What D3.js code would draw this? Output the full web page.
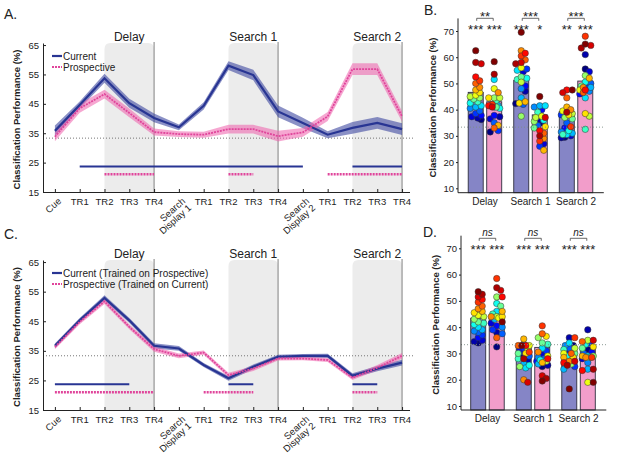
<!DOCTYPE html>
<html>
<head>
<meta charset="utf-8">
<script src="https://cdn.jsdelivr.net/npm/d3@7"></script>
<style>
body { margin: 0; background: #fff; }
text { font-family: "Liberation Sans", Arial, sans-serif; fill: #222; }
</style>
</head>
<body>
<div id="chart"></div>
<script>
// time course labels (x axis of panels A and C)
var timeLabels = ["Cue", "TR1", "TR2", "TR3", "TR4", "Search\nDisplay 1", "TR1", "TR2", "TR3", "TR4",
                  "Search\nDisplay 2", "TR1", "TR2", "TR3", "TR4"];
var epochNames = ["Delay", "Search 1", "Search 2"];
var epochStart = [2, 7, 12];
var epochEnd = [4, 9, 14];
var yTicksLine = [15, 25, 35, 45, 55, 65];
var yTicksBar = [10, 20, 30, 40, 50, 60, 70];
var chance = 33.33;

// panel A
var aCurrent = [35.8, 44.6, 53.7, 45.2, 40.2, 37, 44.3, 58, 54.8, 42.4, 38.5, 34.5, 36.8, 38.5, 36.4];
var aCurrentSE = [1.8, 1.2, 1.5, 1.5, 1.5, 1.0, 1.2, 1.5, 1.8, 2.0, 1.8, 1.2, 2.0, 2.0, 2.0];
var aProspective = [33.8, 43.5, 48.3, 41.9, 35.4, 34.7, 34.5, 36.4, 36.4, 34, 35.3, 40.7, 56.8, 56.8, 40.7];
var aProspectiveSE = [1.5, 1.5, 1.5, 1.5, 1.2, 1.0, 1.0, 1.5, 1.5, 1.8, 1.5, 1.5, 2.0, 2.0, 1.8];
var aSigCurrent = [[1, 10], [12, 14]];
var aSigProspective = [[2, 4], [7, 8], [11, 14]];

// panel C
var cCurrent = [36.7, 45.3, 52.9, 45.3, 36.7, 35.8, 30.2, 25.7, 29.6, 33, 33.3, 33.3, 26.6, 29, 31];
var cCurrentSE = [0.8, 0.8, 0.9, 0.8, 0.9, 0.8, 0.7, 0.8, 0.8, 0.7, 0.6, 0.7, 0.8, 0.9, 1.0];
var cProspective = [36.3, 44.8, 51.7, 43.1, 35.6, 33.3, 34.4, 26.8, 29, 32.4, 32.4, 31.9, 25.9, 29.3, 33.3];
var cProspectiveSE = [0.8, 0.8, 0.9, 0.8, 0.9, 0.8, 0.7, 0.8, 0.8, 0.7, 0.6, 0.7, 0.8, 0.9, 1.0];
var cSigCurrent = [[0, 3], [7, 8], [12, 13]];
var cSigProspective = [[0, 4], [6, 8], [12, 13]];

// bar panels
var barGroups = ["Delay", "Search 1", "Search 2"];
var bMeanCurrent = [46.6, 51.1, 39.3];
var bMeanProspective = [43, 38, 50.9];
var bStarsCurrent = ["***", "***", "**"];
var bStarsProspective = ["***", "*", "***"];
var bStarsDiff = ["**", "***", "***"];
var dMeanCurrent = [43.4, 32.6, 32.3];
var dMeanProspective = [44.6, 32.3, 32.0];
var dStarsCurrent = ["***", "***", "***"];
var dStarsProspective = ["***", "***", "***"];
var dStarsDiff = ["ns", "ns", "ns"];

// individual subjects (same subject order in every array, coloured by subject)
var bDelayCur = [36.2, 36.8, 37.3, 37.8, 38.5, 39.5, 40.5, 41, 41.5, 42.5, 43, 44, 44.5, 45, 45.5, 46.5, 47.5, 48.5, 50, 51, 52.5, 57.5, 58, 62.5];
var bDelayPro = [31.5, 37.3, 36.5, 37.8, 32, 35, 41, 41.5, 51.5, 40.5, 43.5, 41, 44.5, 44.5, 48, 44.5, 34, 46.5, 33, 42, 41.5, 41, 53.5, 58.3];
var bS1Cur = [42.3, 47, 54.5, 49, 55.5, 42, 48, 44.5, 55, 52, 51.5, 52.5, 37.5, 50.5, 56, 42.5, 43, 62.5, 59, 60.5, 61.5, 58, 57.5, 69.5];
var bS1Pro = [35, 36, 27, 40, 26, 34, 41, 41.5, 41.5, 36, 39, 33, 35.5, 37, 37.5, 33.5, 24.5, 29, 31, 28, 32, 37, 30, 45];
var bS2Cur = [29.5, 29.3, 30, 33, 38, 35, 31.5, 31, 30.5, 32, 30.5, 36.5, 37, 38.5, 39.5, 38, 41, 40, 44.5, 33.5, 47.5, 46.5, 39, 47.5];
var bS2Pro = [55.5, 61, 54.5, 46, 48.5, 50, 47, 48.5, 44.5, 50.5, 32.5, 49, 53, 37.5, 47.5, 38.5, 52, 48.5, 46.5, 68, 47.5, 64.5, 63.5, 65];
var dDelayCur = [34, 34.5, 35, 36, 37, 38, 38.5, 39, 40, 41, 41.5, 42, 43, 44, 44.5, 45.5, 46, 47, 48, 49.5, 50.5, 51.5, 52.5, 53.5];
var dDelayPro = [32.5, 38, 41.5, 40.5, 39, 37.5, 40, 43, 46, 49, 45, 48, 51.5, 44, 43.5, 44, 46, 44, 36, 58.5, 51.5, 54, 55, 42];
var dS1Cur = [29.5, 27.5, 30.5, 31, 32, 29, 33.5, 26, 24.5, 25.5, 28, 30, 25, 31.5, 33, 30, 35.5, 20, 33, 30.5, 33, 19, 28, 33];
var dS1Pro = [25, 25.5, 29.5, 27, 31, 28, 28.5, 26, 32, 27.5, 33.5, 34, 36, 27, 29, 36.5, 26.5, 30.5, 37.5, 40.5, 28, 21.5, 20.5, 19.5];
var dS2Cur = [33, 36, 30.5, 31, 25, 32, 33, 24, 34, 29, 31.5, 30, 26, 32, 30, 28.5, 28.5, 27, 30, 36, 26.5, 27, 25.5, 16.5];
var dS2Pro = [31.5, 39, 28, 30.5, 34, 30, 26.5, 24, 29, 33.5, 28.5, 32, 29, 35, 19, 32.5, 29, 28.5, 34.5, 28.5, 23.5, 35, 24, 19];

var blue = "#283593";
var pink = "#e0459b";

var w = 617, h = 458;
var svg = d3.select("#chart").append("svg")
    .attr("width", w).attr("height", h)
    .style("background", "#fff");

function jet(t) {
    function c(v) { return Math.max(0, Math.min(1, v)); }
    var r = c(1.5 - Math.abs(4 * t - 3)), g = c(1.5 - Math.abs(4 * t - 2)), b = c(1.5 - Math.abs(4 * t - 1));
    return d3.rgb(r * 255, g * 255, b * 255).toString();
}

function linePanel(top, bottom, cur, curSE, pro, proSE, sigCur, sigPro, legendNames) {
    var x = d3.scaleLinear().domain([-0.48, 14.3]).range([43, 409.5]);
    var y = d3.scaleLinear().domain([15, 65.7]).range([bottom, top]);
    var g = svg.append("g");

    // shaded epochs
    epochNames.forEach(function(name, k) {
        var x0 = x(epochStart[k]), x1 = x(epochEnd[k]), y0 = y(65.7), y1 = y(15), r = 6;
        g.append("path")
            .attr("d", "M" + x0 + "," + y1 + "V" + (y0 + r) + "Q" + x0 + "," + y0 + " " + (x0 + r) + "," + y0 +
                "H" + (x1 - r) + "Q" + x1 + "," + y0 + " " + x1 + "," + (y0 + r) + "V" + y1 + "Z")
            .attr("fill", "#ececec");
        g.append("line")
            .attr("x1", x1).attr("x2", x1).attr("y1", y0 - 1).attr("y2", y1)
            .attr("stroke", "#808080").attr("stroke-width", 1);
        g.append("text")
            .attr("x", x((epochStart[k] + epochEnd[k]) / 2)).attr("y", y0 - 2)
            .attr("text-anchor", "middle").attr("font-size", 12)
            .text(name);
    });

    g.append("line")
        .attr("x1", 43).attr("x2", 413).attr("y1", y(chance)).attr("y2", y(chance))
        .attr("stroke", "#666").attr("stroke-width", 0.9).attr("stroke-dasharray", "1,2");

    var area = function(se) {
        return d3.area().x(function(d, i) { return x(i); })
            .y0(function(d, i) { return y(d - se[i]); })
            .y1(function(d, i) { return y(d + se[i]); });
    };
    var line = d3.line().x(function(d, i) { return x(i); }).y(function(d) { return y(d); });

    g.append("path").attr("d", area(curSE)(cur)).attr("fill", "#3d47a0").attr("opacity", 0.6);
    g.append("path").attr("d", area(proSE)(pro)).attr("fill", "#ee5fab").attr("opacity", 0.55);
    g.append("path").attr("d", line(cur)).attr("fill", "none").attr("stroke", blue).attr("stroke-width", 2.2);
    g.append("path").attr("d", line(pro)).attr("fill", "none").attr("stroke", pink)
        .attr("stroke-width", 1.8).attr("stroke-dasharray", "2,1");

    // significance bars
    sigCur.forEach(function(s) {
        g.append("line").attr("x1", x(s[0])).attr("x2", x(s[1])).attr("y1", y(23.7)).attr("y2", y(23.7))
            .attr("stroke", blue).attr("stroke-width", 2);
    });
    sigPro.forEach(function(s) {
        g.append("line").attr("x1", x(s[0])).attr("x2", x(s[1])).attr("y1", y(21)).attr("y2", y(21))
            .attr("stroke", pink).attr("stroke-width", 2.5).attr("stroke-dasharray", "2,1");
    });

    // axes
    g.append("g").attr("transform", "translate(0," + bottom + ")")
        .call(d3.axisBottom(x).tickValues(d3.range(15)).tickSizeInner(-3).tickSizeOuter(0).tickFormat(""))
        .call(function(a) { a.selectAll("line,path").attr("stroke", "#222"); });
    g.append("g").attr("transform", "translate(43,0)")
        .call(d3.axisLeft(y).tickValues(yTicksLine).tickSizeInner(-3).tickSizeOuter(0).tickPadding(4))
        .call(function(a) {
            a.selectAll("line,path").attr("stroke", "#222");
            a.selectAll("text").attr("font-size", 9.5).attr("fill", "#222")
                .style("font-family", "Liberation Sans, Arial, sans-serif");
        });

    timeLabels.forEach(function(lab, i) {
        var parts = lab.split("\n");
        if (parts.length > 1 || i === 0) {
            var t = g.append("text")
                .attr("transform", "translate(" + (x(i) + 7) + "," + (bottom + 10) + ") rotate(-42)")
                .attr("text-anchor", "end").attr("font-size", 9.5);
            parts.forEach(function(p, j) {
                t.append("tspan").attr("x", 0).attr("dy", j === 0 ? 0 : "0.95em").text(p);
            });
        } else {
            g.append("text").attr("x", x(i)).attr("y", bottom + 13)
                .attr("text-anchor", "middle").attr("font-size", 9.5).text(lab);
        }
    });

    g.append("text")
        .attr("transform", "translate(20," + ((top + bottom) / 2 + 2) + ") rotate(-90)")
        .attr("text-anchor", "middle").attr("font-size", 9.5).attr("font-weight", "bold")
        .text("Classification Performance (%)");

    // legend
    var ly = top + 13;
    [blue, pink].forEach(function(col, k) {
        g.append("line").attr("x1", 52).attr("x2", 62).attr("y1", ly + k * 11).attr("y2", ly + k * 11)
            .attr("stroke", col).attr("stroke-width", k === 0 ? 2.2 : 2)
            .attr("stroke-dasharray", k === 0 ? null : "2,1");
        g.append("text").attr("x", 63).attr("y", ly + k * 11 + 3.5).attr("font-size", 10).text(legendNames[k]);
    });
}

function swarm(values, cx, y, r) {
    var items = values.map(function(v, i) { return { v: v, i: i, y: y(v) }; });
    var order = items.slice().sort(function(a, b) { return b.v - a.v; });
    var offs = [0, 2, -2, 4, -4, 5.5, -5.5];
    var placed = [];
    order.forEach(function(d) {
        var best = 0, bestDist = -1;
        for (var k = 0; k < offs.length; k++) {
            var px = cx + offs[k];
            var md = d3.min(placed, function(p) { return Math.hypot(p.x - px, p.y - d.y); });
            if (md === undefined) md = 99;
            if (md >= r * 1.4) { best = offs[k]; bestDist = md; break; }
            if (md > bestDist) { bestDist = md; best = offs[k]; }
        }
        d.x = cx + best;
        placed.push(d);
    });
    return items;
}

function barPanel(axisX, groupRange, bottom, top10, meanCur, meanPro, subjCur, subjPro, starsCur, starsPro, starsDiff, italicDiff, bracketY) {
    var y = d3.scaleLinear().domain([10, 70]).range([top10[0], top10[1]]);
    var yBottom = bottom, yTop = y(74.8);
    var gx = d3.scaleBand().domain(barGroups).range(groupRange);
    var bw = gx.bandwidth();
    var sx = d3.scaleBand().domain(["cur", "pro"]).range([bw / 2 - 16.75, bw / 2 + 16.75]).paddingInner(0.19);
    var g = svg.append("g");

    barGroups.forEach(function(grp, k) {
        [["cur", meanCur[k], "#8585c6", subjCur[k], starsCur[k]],
         ["pro", meanPro[k], "#f29dca", subjPro[k], starsPro[k]]].forEach(function(s) {
            var x0 = gx(grp) + sx(s[0]);
            g.append("rect")
                .attr("x", x0).attr("y", y(s[1]))
                .attr("width", sx.bandwidth()).attr("height", yBottom - y(s[1]))
                .attr("fill", s[2]).attr("stroke", "#2e2e3e").attr("stroke-width", 0.9);
            var cx = x0 + sx.bandwidth() / 2;
            var pts = swarm(s[3], cx, y, 3.2);
            g.selectAll(null).data(pts).enter().append("circle")
                .attr("cx", function(d) { return d.x; })
                .attr("cy", function(d) { return d.y; })
                .attr("r", 3.2)
                .attr("fill", function(d) { return jet(d.i / (s[3].length - 1)); })
                .attr("stroke", "#333").attr("stroke-width", 0.5);
            g.append("text").attr("x", cx).attr("y", bracketY + 15.5)
                .attr("text-anchor", "middle").attr("font-size", 13).text(s[4]);
        });
        var c1 = gx(grp) + sx("cur") + sx.bandwidth() / 2 + 1;
        var c2 = gx(grp) + sx("pro") + sx.bandwidth() / 2 - 1;
        g.append("path")
            .attr("d", "M" + c1 + "," + (bracketY + 2.5) + "V" + bracketY + "H" + c2 + "V" + (bracketY + 2.5))
            .attr("fill", "none").attr("stroke", "#444").attr("stroke-width", 0.8);
        g.append("text").attr("x", (c1 + c2) / 2).attr("y", italicDiff ? bracketY - 2 : bracketY + 2.2)
            .attr("text-anchor", "middle").attr("font-size", italicDiff ? 10 : 13)
            .attr("font-style", italicDiff ? "italic" : null)
            .text(starsDiff[k]);
        g.append("text").attr("x", gx(grp) + bw / 2).attr("y", yBottom + 12)
            .attr("text-anchor", "middle").attr("font-size", 10).text(grp);
    });

    g.append("line")
        .attr("x1", axisX).attr("x2", groupRange[1] + 5).attr("y1", y(chance)).attr("y2", y(chance))
        .attr("stroke", "#7f8f88").attr("stroke-width", 0.9).attr("stroke-dasharray", "1,2");

    g.append("line").attr("x1", axisX).attr("x2", groupRange[1] + 5).attr("y1", yBottom).attr("y2", yBottom)
        .attr("stroke", "#222");
    g.append("line").attr("x1", axisX).attr("x2", axisX).attr("y1", yBottom).attr("y2", yTop)
        .attr("stroke", "#222");
    g.append("g").attr("transform", "translate(" + axisX + ",0)")
        .call(d3.axisLeft(y).tickValues(yTicksBar).tickSizeInner(2).tickSizeOuter(0).tickPadding(2))
        .call(function(a) {
            a.select(".domain").remove();
            a.selectAll("line").attr("stroke", "#222");
            a.selectAll("text").attr("font-size", 9.5).attr("fill", "#222")
                .style("font-family", "Liberation Sans, Arial, sans-serif");
        });
    g.append("text")
        .attr("transform", "translate(" + (axisX - 22) + "," + ((yBottom + yTop) / 2 + 2) + ") rotate(-90)")
        .attr("text-anchor", "middle").attr("font-size", 9.5).attr("font-weight", "bold")
        .text("Classification Performance (%)");
}

linePanel(43, 192, aCurrent, aCurrentSE, aProspective, aProspectiveSE, aSigCurrent, aSigProspective,
    ["Current", "Prospective"]);
linePanel(260, 410, cCurrent, cCurrentSE, cProspective, cProspectiveSE, cSigCurrent, cSigProspective,
    ["Current (Trained on Prospective)", "Prospective (Trained on Current)"]);

barPanel(458, [462.2, 598.8], 192.7, [188.3, 31], bMeanCurrent, bMeanProspective,
    [bDelayCur, bS1Cur, bS2Cur], [bDelayPro, bS1Pro, bS2Pro],
    bStarsCurrent, bStarsProspective, bStarsDiff, false, 18.3);
barPanel(461, [464.7, 601.3], 410, [406, 248.3], dMeanCurrent, dMeanProspective,
    [dDelayCur, dS1Cur, dS2Cur], [dDelayPro, dS1Pro, dS2Pro],
    dStarsCurrent, dStarsProspective, dStarsDiff, true, 238.3);

// panel letters
[["A.", 4, 19], ["B.", 424, 15], ["C.", 4, 238.5], ["D.", 423, 237]].forEach(function(p) {
    svg.append("text").attr("x", p[1]).attr("y", p[2]).attr("font-size", 14).text(p[0]);
});
</script>
</body>
</html>
